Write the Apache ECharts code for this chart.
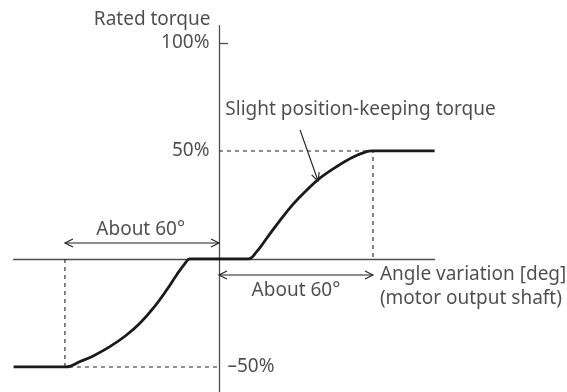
<!DOCTYPE html>
<html>
<head>
<meta charset="utf-8">
<script src="https://cdn.jsdelivr.net/npm/echarts@6/dist/echarts.min.js"></script>
<style>
  html, body { margin: 0; padding: 0; background: #fff; }
  #chart { width: 567px; height: 392px; }
</style>
</head>
<body>
<div id="chart"></div>
<script>
// Torque vs. angle characteristic (values in degrees and % of rated torque)
const curveX = [-80, -59.5, -54.1, -49.0, -42.5, -36.0, -30.8, -25.6, -20.4, -16.5, -13.2, -11.3,
                11.4, 14.7, 18.6, 23.8, 28.9, 34.2, 39.3, 45.9, 52.3, 57.5, 59.5, 84];
const curveY = [-50, -50, -47.5, -44.9, -40.6, -35.2, -29.8, -22.8, -14.4, -7.4, -2.0, 0,
                0, 3.4, 9.6, 17.9, 25.4, 31.9, 37.4, 42.8, 47.2, 49.7, 50, 50];

// Reference guides at ±60° / ±50 %
const guideUpper = [[0, 50], [60, 50], [60, 0]];
const guideLower = [[-60, 0], [-60, -50], [0, -50]];

// Tick labels on the torque axis
const tickValues = [100, 50, -50];
const tickLabels = ['100%', '50%', '\u201350%'];

// Annotation texts
const axisTitleY = 'Rated torque';
const axisTitleX = ['Angle variation [deg]', '(motor output shaft)'];
const spanLabel = 'About 60\u00b0';
const noteLabel = 'Slight position-keeping torque';

// Arrows: [x1, y1, x2, y2, headAtStart, headAtEnd]
const arrows = [
  [-60, 7.4, 0, 7.4, 1, 1],
  [0, -7.4, 60, -7.4, 1, 1],
  [31.6, 59.7, 38.6, 36.1, 0, 1]
];

const FONT = 'Noto Sans';
const TXT = '#231f20';

const chart = echarts.init(document.getElementById('chart'), null, { renderer: 'canvas' });

function chevron(tip, from, len, half) {
  const dx = tip[0] - from[0], dy = tip[1] - from[1];
  const d = Math.hypot(dx, dy) || 1;
  const ux = dx / d, uy = dy / d;
  const bx = tip[0] - ux * len, by = tip[1] - uy * len;
  return [[bx - uy * half, by + ux * half], tip, [bx + uy * half, by - ux * half]];
}

const labelItems = [];
tickValues.forEach((v, i) => {
  const right = v < 0;
  labelItems.push({
    value: [0, v],
    label: {
      formatter: tickLabels[i],
      position: right ? 'right' : 'left',
      distance: right ? 8 : 9
    }
  });
});
labelItems.push({ value: [0, 111], label: { formatter: axisTitleY, position: 'left', distance: 8 } });
labelItems.push({ value: [62.5, -7.4], label: { formatter: axisTitleX[0], position: 'right', distance: 0 } });
labelItems.push({ value: [62.5, -18.5], label: { formatter: axisTitleX[1], position: 'right', distance: 0 } });
labelItems.push({ value: [-30.5, 13.8], label: { formatter: spanLabel, position: 'inside' } });
labelItems.push({ value: [30, -14.8], label: { formatter: spanLabel, position: 'inside' } });
labelItems.push({ value: [2.3, 69], label: { formatter: noteLabel, position: 'right', distance: 0 } });

chart.setOption({
  animation: false,
  backgroundColor: '#ffffff',
  grid: { left: 13.6, right: 132.4, top: 25.7, bottom: 0, containLabel: false },
  xAxis: {
    type: 'value', min: -80, max: 84,
    axisLine: { show: true, onZero: true, lineStyle: { color: '#4d4d4d', width: 1.3 } },
    axisTick: { show: false }, axisLabel: { show: false }, splitLine: { show: false }
  },
  yAxis: {
    type: 'value', min: -61.6, max: 108,
    axisLine: { show: true, onZero: true, lineStyle: { color: '#4d4d4d', width: 1.3 } },
    axisTick: { show: true, inside: true, length: 9, customValues: [100], lineStyle: { color: '#4d4d4d', width: 1.3 } },
    axisLabel: { show: false }, splitLine: { show: false }
  },
  series: [
    {
      type: 'line', data: guideUpper, symbol: 'none', silent: true,
      lineStyle: { color: '#231f20', width: 1.1, type: [4, 4] }
    },
    {
      type: 'line', data: guideLower, symbol: 'none', silent: true,
      lineStyle: { color: '#231f20', width: 1.1, type: [4, 4] }
    },
    {
      type: 'line',
      data: curveX.map((x, i) => [x, curveY[i]]),
      symbol: 'none', smooth: 0.4,
      lineStyle: { color: '#1a1a1a', width: 2.8 }, z: 5
    },
    {
      type: 'custom', silent: true, z: 6,
      data: arrows,
      renderItem: function (params, api) {
        const p1 = api.coord([api.value(0), api.value(1)]);
        const p2 = api.coord([api.value(2), api.value(3)]);
        const style = { stroke: '#231f20', lineWidth: 1.1, fill: null };
        const children = [{ type: 'line', shape: { x1: p1[0], y1: p1[1], x2: p2[0], y2: p2[1] }, style: style }];
        if (api.value(4)) children.push({ type: 'polyline', shape: { points: chevron(p1, p2, 8, 4) }, style: style });
        if (api.value(5)) children.push({ type: 'polyline', shape: { points: chevron(p2, p1, 8, 4) }, style: style });
        return { type: 'group', children: children };
      }
    },
    {
      type: 'scatter', silent: true, symbolSize: 1, clip: false,
      itemStyle: { color: 'rgba(0,0,0,0)' },
      data: labelItems,
      label: { show: true, color: TXT, fontFamily: FONT, fontSize: 19 }
    }
  ]
});
</script>
</body>
</html>
